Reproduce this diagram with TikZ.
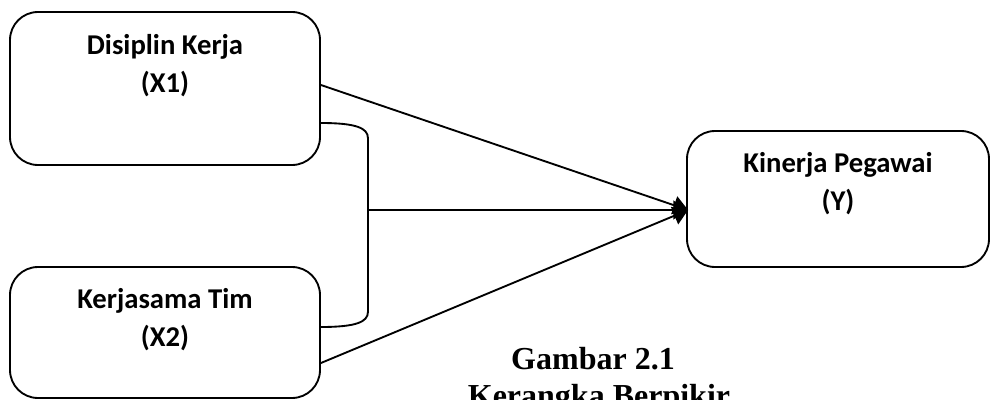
\documentclass[tikz,border=0pt]{standalone}
\usepackage{fontspec}
\setmainfont{Liberation Serif}
\newfontfamily\boxfont{Carlito}
\usetikzlibrary{arrows.meta, calc}

\begin{document}
\begin{tikzpicture}[x=0.75pt, y=-0.75pt, line width=1.4pt, >={Triangle[length=11pt, width=14pt]},
  varbox/.style={draw, rounded corners=21pt, minimum width=232.5pt},
  vartext/.style={align=center, anchor=base, font=\boxfont\bfseries\fontsize{21.5}{28.5}\selectfont}]
  \useasboundingbox (0,0) rectangle (990,400);
  \node[varbox, minimum height=114.75pt] (disiplin) at (165,88.5) {};
  \node[varbox, minimum height=98.25pt] (kerjasama) at (165,332.5) {};
  \node[varbox, minimum width=226.5pt, minimum height=102pt] (kinerja) at (838,199) {};
  \node[vartext] (disiplinTxt) at ($(disiplin.north)+(0,81)$) {Disiplin Kerja\\(X1)};
  \node[vartext] (kerjasamaTxt) at ($(kerjasama.north)+(0,80)$) {Kerjasama Tim\\(X2)};
  \node[vartext] (kinerjaTxt) at ($(kinerja.north)+(0,80)$) {Kinerja Pegawai\\(Y)};
  \coordinate (tip) at ($(kinerja.west)+(2,11)$);
  \coordinate (join) at ($(disiplin.east)+(47,121.5)$);
  % bracket joining X1 and X2
  \draw ($(disiplin.east)+(0,34.5)$) .. controls +(35,0) and +(0,-10) .. ($(disiplin.east)+(47,49.5)$)
    -- ($(kerjasama.east)+(47,-20.5)$) .. controls +(0,10) and +(35,0) .. ($(kerjasama.east)+(0,-5.5)$);
  \draw[->] ($(disiplin.east)+(0,-3.5)$) -- (tip);
  \draw[->] (join) -- (tip);
  \draw[->] ($(kerjasama.east)+(0,30.5)$) -- (tip);
  \node[anchor=base, font=\bfseries\fontsize{24}{28}\selectfont] (gambar) at (593,369) {Gambar 2.1};
  \node[anchor=base, font=\bfseries\fontsize{24}{28}\selectfont] (kerangka) at ($(gambar.base)+(6,37)$) {Kerangka Berpikir};
\end{tikzpicture}
\end{document}
